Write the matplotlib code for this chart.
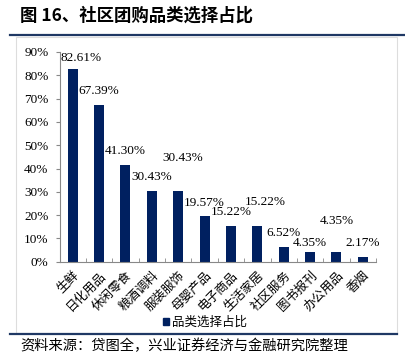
import numpy as np
import matplotlib.pyplot as plt
from matplotlib.patches import Rectangle, Patch
from matplotlib.lines import Line2D

categories = ['生鲜', '日化用品', '休闲零食', '粮酒调料', '服装服饰', '母婴产品',
              '电子商品', '生活家居', '社区服务', '图书报刊', '办公用品', '香烟']
shares = [82.61, 67.39, 41.30, 30.43, 30.43, 19.57, 15.22, 15.22, 6.52, 4.35, 4.35, 2.17]
series_name = '品类选择占比'
yticks = [0, 10, 20, 30, 40, 50, 60, 70, 80, 90]

# label offsets (pixels) as in the original layout
label_dx = [8, 0, 0, 0, 5, 0, 0, 8, 0, 0, 0, 0]
label_dy = [11, 14, 14, 14, 33, 13, 14, 24, 14, 9, 31, 14]

cjk = ['Noto Sans CJK SC', 'DejaVu Sans']
serif = 'Liberation Serif'
navy = '#002060'

W, H = 405, 358
fig = plt.figure(figsize=(W / 100, H / 100), dpi=100)

# outer frame and rules
fig.add_artist(Rectangle((16 / W, 1 - 333 / H), 381 / W, 296 / H, transform=fig.transFigure,
                         fill=False, edgecolor='#dddddd', lw=0.8))
fig.add_artist(Line2D([10 / W, 1.0], [1 - 35 / H] * 2, transform=fig.transFigure,
                      color='#1f3864', lw=1.6))
fig.add_artist(Line2D([10 / W, 397 / W], [1 - 334 / H] * 2, transform=fig.transFigure,
                      color='#1f3864', lw=1.6))
fig.text(20 / W, 1 - 16 / H, '图 16、社区团购品类选择占比', family=cjk, fontsize=12.5,
         weight='bold', va='center', ha='left')
fig.text(20 / W, 1 - 346 / H, '资料来源：贷图全，兴业证券经济与金融研究院整理', family=cjk,
         fontsize=10.3, va='center', ha='left')

ax = fig.add_axes([59.5 / W, 1 - 261.7 / H, (376 - 59.5) / W, (261.7 - 52) / H])
x = np.arange(len(categories))
ax.bar(x, shares, width=0.38, color=navy)
ax.set_xlim(-0.5, len(categories) - 0.5)
ax.set_ylim(0, 90)

ax.set_yticks(yticks)
ax.set_yticklabels([f'{v}%' for v in yticks], family=serif, fontsize=9.5)
ax.tick_params(axis='y', direction='out', length=3, color='#888888', pad=5)

ax.set_xticks(x)
ax.set_xticklabels(categories, family=cjk, fontsize=9, rotation=45, ha='right',
                   rotation_mode='anchor')
ax.tick_params(axis='x', which='major', length=0, pad=5)
ax.set_xticks(np.arange(-0.5, len(categories), 1), minor=True)
ax.tick_params(axis='x', which='minor', direction='in', length=3, color='#888888')

for s in ['top', 'right']:
    ax.spines[s].set_visible(False)
for s in ['left', 'bottom']:
    ax.spines[s].set_color('#888888')
    ax.spines[s].set_linewidth(0.8)

for i, v in enumerate(shares):
    ax.annotate(f'{v:.2f}%', (x[i], v), xytext=(label_dx[i], label_dy[i]),
                textcoords='offset pixels', ha='center', va='center',
                family=serif, fontsize=9.5)

handle = Patch(facecolor=navy, edgecolor=navy)
fig.legend([handle], [series_name], loc='center', bbox_to_anchor=(205 / W, 1 - 322.5 / H),
           frameon=False, prop={'family': cjk, 'size': 9}, handlelength=0.45,
           handleheight=0.45, handletextpad=0.2, borderpad=0)

fig.savefig('out.png', dpi=100)
